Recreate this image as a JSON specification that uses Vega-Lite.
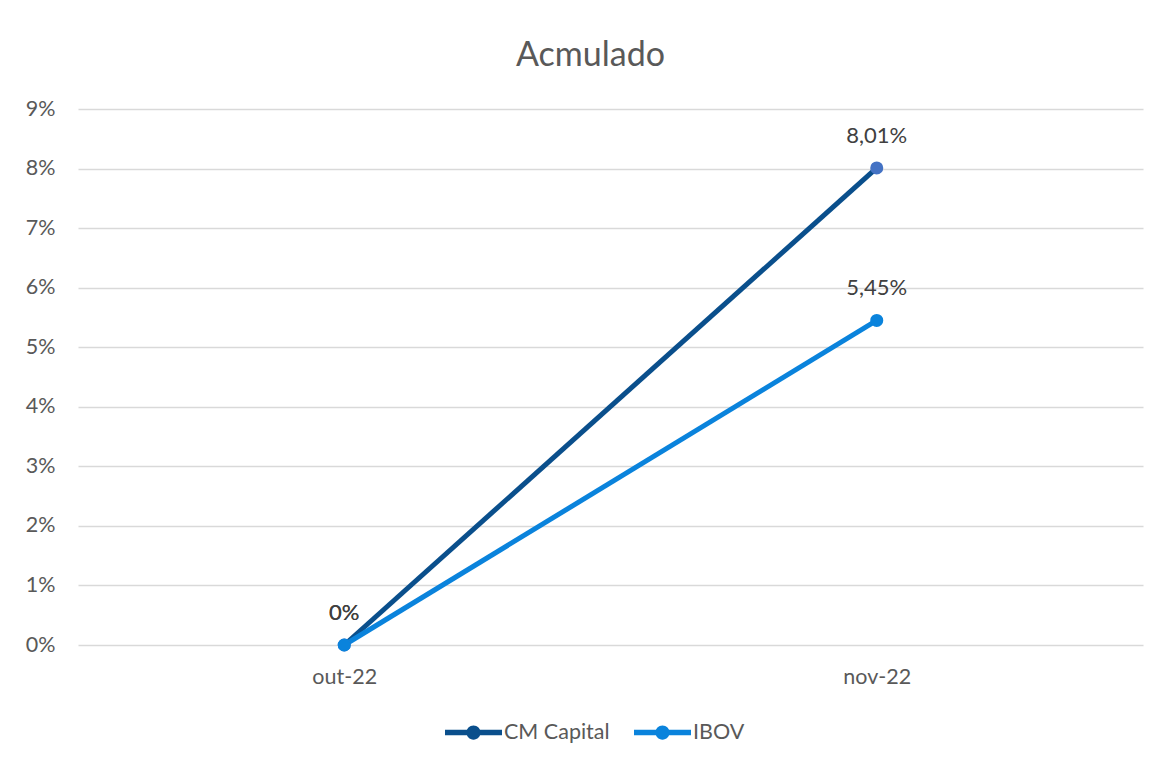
{
  "$schema": "https://vega.github.io/schema/vega-lite/v6.json",
  "autosize": "none",
  "width": 1065,
  "height": 536,
  "padding": {"left": 78, "top": 109, "right": 22, "bottom": 118},
  "background": "white",
  "title": {"text": "Acmulado", "fontSize": 34, "font": "Lato", "fontWeight": "normal", "color": "#595959", "anchor": "middle", "dx": -20, "offset": 25},
  "data": {"values": [
    {"mes": "out-22", "serie": "CM Capital", "valor": 0, "rotulo": "0%"},
    {"mes": "nov-22", "serie": "CM Capital", "valor": 0.0801, "rotulo": "8,01%"},
    {"mes": "out-22", "serie": "IBOV", "valor": 0, "rotulo": "0%"},
    {"mes": "nov-22", "serie": "IBOV", "valor": 0.0545, "rotulo": "5,45%"}
  ]},
  "encoding": {
    "x": {"field": "mes", "type": "nominal", "sort": ["out-22", "nov-22"],
      "scale": {"type": "point", "padding": 0.5},
      "axis": {"title": null, "domain": false, "ticks": false, "grid": false, "labelAngle": 0, "labelPadding": 21, "labelFontSize": 21.5, "labelFont": "Lato", "labelColor": "#595959"}},
    "y": {"field": "valor", "type": "quantitative",
      "scale": {"domain": [0, 0.09], "nice": false},
      "axis": {"title": null, "format": ".0%", "values": [0, 0.01, 0.02, 0.03, 0.04, 0.05, 0.06, 0.07, 0.08, 0.09], "domain": false, "ticks": false, "grid": true, "gridColor": "#D9D9D9", "gridWidth": 1.3, "labelPadding": 23, "labelFontSize": 21.5, "labelFont": "Lato", "labelColor": "#595959"}}
  },
  "layer": [
    {
      "mark": {"type": "line", "strokeWidth": 5},
      "encoding": {
        "color": {"field": "serie", "type": "nominal",
          "scale": {"domain": ["CM Capital", "IBOV"], "range": ["#0A4F8C", "#0A83DC"]},
          "legend": {"title": null, "orient": "none", "direction": "horizontal", "legendX": 367, "legendY": 595,
            "symbolType": "M-1,-0.1L1,-0.1L1,0.1L-1,0.1Z M0.25,0A0.25,0.25,0,1,1,-0.25,0A0.25,0.25,0,1,1,0.25,0Z",
            "symbolSize": 3249, "symbolStrokeWidth": 0,
            "labelFontSize": 21.5, "labelFont": "Lato", "labelColor": "#595959", "labelOffset": 2, "columnPadding": 24,
            "encode": {"symbols": {"update": {"fill": {"scale": "color", "field": "value"}, "fillOpacity": {"value": 1}, "strokeWidth": {"value": 0}}}}}
        }
      }
    },
    {
      "mark": {"type": "point", "filled": true, "opacity": 1, "size": 170},
      "encoding": {
        "fill": {"condition": {"test": "datum.serie === 'CM Capital'", "value": "#4472C4"}, "value": "#0A83DC"}
      }
    },
    {
      "mark": {"type": "text", "dy": -32, "baseline": "middle", "fontSize": 22, "font": "Lato", "color": "#404040"},
      "encoding": {"text": {"field": "rotulo"}}
    }
  ],
  "config": {"view": {"stroke": null}}
}
